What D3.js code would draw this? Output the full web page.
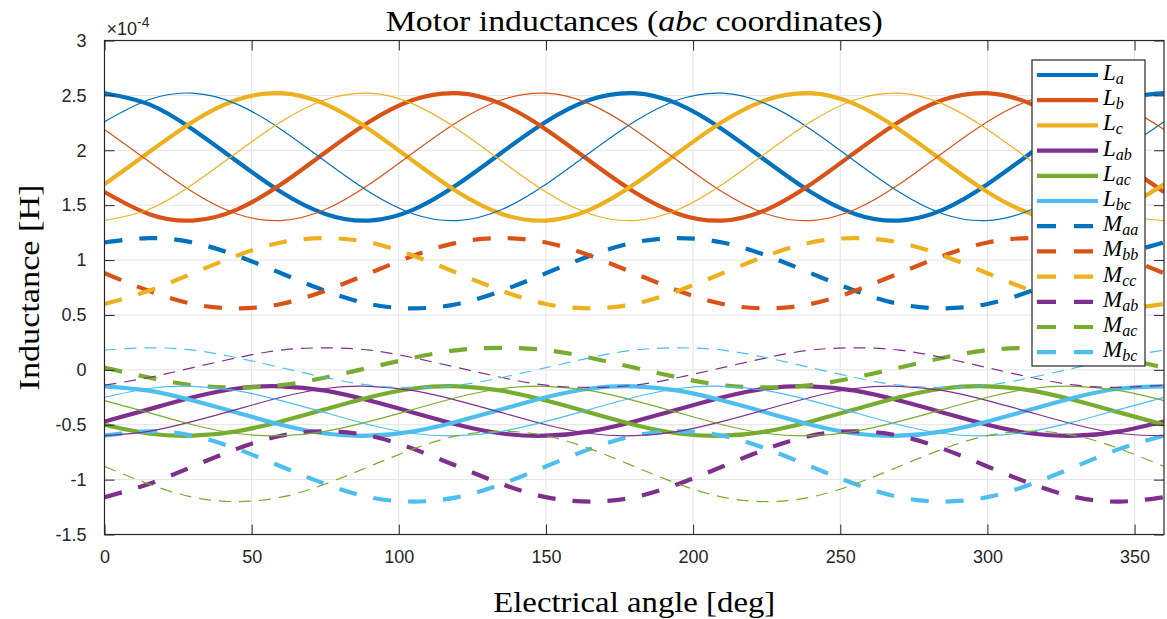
<!DOCTYPE html>
<html>
<head>
<meta charset="utf-8">
<script src="https://cdn.jsdelivr.net/npm/d3@7"></script>
<style>
  body { margin: 0; background: #fff; }
  svg { display: block; }
</style>
</head>
<body>
<svg id="chart"></svg>
<script>
var WIDTH = 1167;
var HEIGHT = 619;
var margin = { left: 104.5, top: 40.5, right: 3, bottom: 84.5 };

// electrical angle samples [deg]
var angle = [0, 15, 30, 45, 60, 75, 90, 105, 120, 135, 150, 165, 180,
             195, 210, 225, 240, 255, 270, 285, 300, 315, 330, 345, 360];

var xTicks = [0, 50, 100, 150, 200, 250, 300, 350];
var yTicks = [-1.5, -1, -0.5, 0, 0.5, 1, 1.5, 2, 2.5, 3];
var yTickLabels = ['-1.5', '-1', '-0.5', '0', '0.5', '1', '1.5', '2', '2.5', '3'];

// values in units of 1e-4 H
var La  = [2.52, 2.42, 2.19, 1.90, 1.62, 1.42, 1.36, 1.46, 1.69, 1.98, 2.26, 2.46, 2.52, 2.42, 2.19, 1.90, 1.62, 1.42, 1.36, 1.46, 1.69, 1.98, 2.26, 2.46, 2.52];
var Lb  = [1.62, 1.42, 1.36, 1.46, 1.69, 1.98, 2.26, 2.46, 2.52, 2.42, 2.19, 1.90, 1.62, 1.42, 1.36, 1.46, 1.69, 1.98, 2.26, 2.46, 2.52, 2.42, 2.19, 1.90, 1.62];
var Lc  = [1.69, 1.98, 2.26, 2.46, 2.52, 2.42, 2.19, 1.90, 1.62, 1.42, 1.36, 1.46, 1.69, 1.98, 2.26, 2.46, 2.52, 2.42, 2.19, 1.90, 1.62, 1.42, 1.36, 1.46, 1.69];
var Lab = [-0.47, -0.36, -0.25, -0.17, -0.15, -0.19, -0.28, -0.39, -0.50, -0.58, -0.60, -0.56, -0.47, -0.36, -0.25, -0.17, -0.15, -0.19, -0.28, -0.39, -0.50, -0.58, -0.60, -0.56, -0.47];
var Lac = [-0.50, -0.58, -0.60, -0.56, -0.47, -0.36, -0.25, -0.17, -0.15, -0.19, -0.28, -0.39, -0.50, -0.58, -0.60, -0.56, -0.47, -0.36, -0.25, -0.17, -0.15, -0.19, -0.28, -0.39, -0.50];
var Lbc = [-0.15, -0.19, -0.28, -0.39, -0.50, -0.58, -0.60, -0.56, -0.47, -0.36, -0.25, -0.17, -0.15, -0.19, -0.28, -0.39, -0.50, -0.58, -0.60, -0.56, -0.47, -0.36, -0.25, -0.17, -0.15];
var Maa = [1.16, 1.20, 1.16, 1.04, 0.88, 0.72, 0.60, 0.56, 0.60, 0.72, 0.88, 1.04, 1.16, 1.20, 1.16, 1.04, 0.88, 0.72, 0.60, 0.56, 0.60, 0.72, 0.88, 1.04, 1.16];
var Mbb = [0.88, 0.72, 0.60, 0.56, 0.60, 0.72, 0.88, 1.04, 1.16, 1.20, 1.16, 1.04, 0.88, 0.72, 0.60, 0.56, 0.60, 0.72, 0.88, 1.04, 1.16, 1.20, 1.16, 1.04, 0.88];
var Mcc = [0.60, 0.72, 0.88, 1.04, 1.16, 1.20, 1.16, 1.04, 0.88, 0.72, 0.60, 0.56, 0.60, 0.72, 0.88, 1.04, 1.16, 1.20, 1.16, 1.04, 0.88, 0.72, 0.60, 0.56, 0.60];
var Mab = [-1.16, -1.04, -0.88, -0.72, -0.60, -0.56, -0.60, -0.72, -0.88, -1.04, -1.16, -1.20, -1.16, -1.04, -0.88, -0.72, -0.60, -0.56, -0.60, -0.72, -0.88, -1.04, -1.16, -1.20, -1.16];
var Mac = [0.02, -0.07, -0.14, -0.16, -0.14, -0.07, 0.02, 0.11, 0.18, 0.20, 0.18, 0.11, 0.02, -0.07, -0.14, -0.16, -0.14, -0.07, 0.02, 0.11, 0.18, 0.20, 0.18, 0.11, 0.02];
var Mbc = [-0.60, -0.56, -0.60, -0.72, -0.88, -1.04, -1.16, -1.20, -1.16, -1.04, -0.88, -0.72, -0.60, -0.56, -0.60, -0.72, -0.88, -1.04, -1.16, -1.20, -1.16, -1.04, -0.88, -0.72, -0.60];

// thin curves (second set, not in the legend)
var La2  = [2.26, 2.46, 2.52, 2.42, 2.19, 1.90, 1.62, 1.42, 1.36, 1.46, 1.69, 1.98, 2.26, 2.46, 2.52, 2.42, 2.19, 1.90, 1.62, 1.42, 1.36, 1.46, 1.69, 1.98, 2.26];
var Lb2  = [2.19, 1.90, 1.62, 1.42, 1.36, 1.46, 1.69, 1.98, 2.26, 2.46, 2.52, 2.42, 2.19, 1.90, 1.62, 1.42, 1.36, 1.46, 1.69, 1.98, 2.26, 2.46, 2.52, 2.42, 2.19];
var Lc2  = [1.36, 1.46, 1.69, 1.98, 2.26, 2.46, 2.52, 2.42, 2.19, 1.90, 1.62, 1.42, 1.36, 1.46, 1.69, 1.98, 2.26, 2.46, 2.52, 2.42, 2.19, 1.90, 1.62, 1.42, 1.36];
var Lab2 = [-0.60, -0.56, -0.47, -0.36, -0.25, -0.17, -0.15, -0.19, -0.28, -0.39, -0.50, -0.58, -0.60, -0.56, -0.47, -0.36, -0.25, -0.17, -0.15, -0.19, -0.28, -0.39, -0.50, -0.58, -0.60];
var Lac2 = [-0.28, -0.39, -0.50, -0.58, -0.60, -0.56, -0.47, -0.36, -0.25, -0.17, -0.15, -0.19, -0.28, -0.39, -0.50, -0.58, -0.60, -0.56, -0.47, -0.36, -0.25, -0.17, -0.15, -0.19, -0.28];
var Lbc2 = [-0.25, -0.17, -0.15, -0.19, -0.28, -0.39, -0.50, -0.58, -0.60, -0.56, -0.47, -0.36, -0.25, -0.17, -0.15, -0.19, -0.28, -0.39, -0.50, -0.58, -0.60, -0.56, -0.47, -0.36, -0.25];
var Mab2 = [-0.14, -0.07, 0.02, 0.11, 0.18, 0.20, 0.18, 0.11, 0.02, -0.07, -0.14, -0.16, -0.14, -0.07, 0.02, 0.11, 0.18, 0.20, 0.18, 0.11, 0.02, -0.07, -0.14, -0.16, -0.14];
var Mac2 = [-0.88, -1.04, -1.16, -1.20, -1.16, -1.04, -0.88, -0.72, -0.60, -0.56, -0.60, -0.72, -0.88, -1.04, -1.16, -1.20, -1.16, -1.04, -0.88, -0.72, -0.60, -0.56, -0.60, -0.72, -0.88];
var Mbc2 = [0.18, 0.20, 0.18, 0.11, 0.02, -0.07, -0.14, -0.16, -0.14, -0.07, 0.02, 0.11, 0.18, 0.20, 0.18, 0.11, 0.02, -0.07, -0.14, -0.16, -0.14, -0.07, 0.02, 0.11, 0.18];

var legendNames = [['L', 'a'], ['L', 'b'], ['L', 'c'], ['L', 'ab'], ['L', 'ac'], ['L', 'bc'],
                   ['M', 'aa'], ['M', 'bb'], ['M', 'cc'], ['M', 'ab'], ['M', 'ac'], ['M', 'bc']];

var colors = ['#0072BD', '#D95319', '#EDB120', '#7E2F8E', '#77AC30', '#4DBEEE'];

var THICK = 4.2;
var THIN = 1.2;
var DASH_THICK = '18,17';
var DASH_THIN = '12,8';

var mainSeries = [
    { values: La,  color: colors[0], dash: null },
    { values: Lb,  color: colors[1], dash: null },
    { values: Lc,  color: colors[2], dash: null },
    { values: Lab, color: colors[3], dash: null },
    { values: Lac, color: colors[4], dash: null },
    { values: Lbc, color: colors[5], dash: null },
    { values: Maa, color: colors[0], dash: DASH_THICK },
    { values: Mbb, color: colors[1], dash: DASH_THICK },
    { values: Mcc, color: colors[2], dash: DASH_THICK },
    { values: Mab, color: colors[3], dash: DASH_THICK },
    { values: Mac, color: colors[4], dash: DASH_THICK },
    { values: Mbc, color: colors[5], dash: DASH_THICK }
];
var thinSeries = [
    { values: La2,  color: colors[0], dash: null },
    { values: Lb2,  color: colors[1], dash: null },
    { values: Lc2,  color: colors[2], dash: null },
    { values: Lab2, color: colors[3], dash: null },
    { values: Lac2, color: colors[4], dash: null },
    { values: Lbc2, color: colors[5], dash: null },
    { values: Mab2, color: colors[3], dash: DASH_THIN },
    { values: Mac2, color: colors[4], dash: DASH_THIN },
    { values: Mbc2, color: colors[5], dash: DASH_THIN }
];

var svg = d3.select('#chart')
    .attr('width', WIDTH)
    .attr('height', HEIGHT)
    .style('font-family', '"Liberation Sans", Arial, sans-serif');

var plotW = WIDTH - margin.left - margin.right;
var plotH = HEIGHT - margin.top - margin.bottom;

var xScale = d3.scaleLinear().domain([0, 360]).range([margin.left, margin.left + plotW]);
var yScale = d3.scaleLinear().domain([-1.5, 3]).range([margin.top + plotH, margin.top]);

var axisColor = '#262626';

// grid
var grid = svg.append('g');
grid.selectAll('line.gx')
    .data(xTicks.slice(1))
    .enter().append('line')
    .attr('x1', function(d){ return xScale(d); })
    .attr('x2', function(d){ return xScale(d); })
    .attr('y1', margin.top).attr('y2', margin.top + plotH)
    .attr('stroke', '#e3e3e3').attr('stroke-width', 1);
grid.selectAll('line.gy')
    .data(yTicks.slice(1, -1))
    .enter().append('line')
    .attr('y1', function(d){ return yScale(d); })
    .attr('y2', function(d){ return yScale(d); })
    .attr('x1', margin.left).attr('x2', margin.left + plotW)
    .attr('stroke', '#e3e3e3').attr('stroke-width', 1);

svg.append('clipPath').attr('id', 'plotClip')
    .append('rect')
    .attr('x', margin.left).attr('y', margin.top)
    .attr('width', plotW).attr('height', plotH);

var line = d3.line()
    .x(function(d, i){ return xScale(angle[i]); })
    .y(function(d){ return yScale(d); })
    .curve(d3.curveNatural);

var lines = svg.append('g').attr('clip-path', 'url(#plotClip)');

function drawSeries(list, width){
    list.forEach(function(s){
        lines.append('path')
            .datum(s.values)
            .attr('d', line)
            .attr('fill', 'none')
            .attr('stroke', s.color)
            .attr('stroke-width', width)
            .attr('stroke-dasharray', s.dash)
            .attr('stroke-linejoin', 'round');
    });
}
drawSeries(mainSeries, THICK);
drawSeries(thinSeries, THIN);

// axes (box with inward ticks on all sides)
var tickLen = 10;
var bottomAxis = d3.axisBottom(xScale).tickValues(xTicks).tickSize(-tickLen).tickPadding(16);
var topAxis = d3.axisTop(xScale).tickValues(xTicks).tickSize(-tickLen).tickFormat('');
var leftAxis = d3.axisLeft(yScale).tickValues(yTicks).tickSize(-tickLen).tickPadding(18)
    .tickFormat(function(d, i){ return yTickLabels[i]; });
var rightAxis = d3.axisRight(yScale).tickValues(yTicks).tickSize(-tickLen).tickFormat('');

function styleAxis(g){
    g.select('.domain').attr('stroke', axisColor).attr('stroke-width', 1.2);
    g.selectAll('.tick line').attr('stroke', axisColor).attr('stroke-width', 1);
    g.selectAll('.tick text').attr('fill', axisColor)
        .style('font-size', '18px')
        .style('font-family', '"Liberation Sans", Arial, sans-serif');
}

svg.append('g').attr('transform', 'translate(0,' + (margin.top + plotH) + ')').call(bottomAxis).call(styleAxis);
svg.append('g').attr('transform', 'translate(0,' + margin.top + ')').call(topAxis).call(styleAxis);
svg.append('g').attr('transform', 'translate(' + margin.left + ',0)').call(leftAxis).call(styleAxis);
svg.append('g').attr('transform', 'translate(' + (margin.left + plotW) + ',0)').call(rightAxis).call(styleAxis);
svg.selectAll('.domain').attr('d', null);
svg.append('rect')
    .attr('x', margin.left).attr('y', margin.top)
    .attr('width', plotW).attr('height', plotH)
    .attr('fill', 'none').attr('stroke', axisColor).attr('stroke-width', 1.2);

// exponent label
var expo = svg.append('text')
    .attr('x', margin.left + 2).attr('y', margin.top - 6)
    .attr('fill', axisColor)
    .style('font-size', '18px');
expo.append('tspan').text('\u00d710');
expo.append('tspan').attr('dy', -8).style('font-size', '14px').text('-4');

// title and axis labels
var serif = '"Liberation Serif", "Times New Roman", serif';
var title = svg.append('text')
    .attr('x', margin.left + plotW / 2).attr('y', 31)
    .attr('text-anchor', 'middle')
    .attr('textLength', 497).attr('lengthAdjust', 'spacingAndGlyphs')
    .attr('fill', '#000')
    .style('font-family', serif).style('font-size', '29px');
title.append('tspan').text('Motor inductances (');
title.append('tspan').style('font-style', 'italic').text('abc');
title.append('tspan').text(' coordinates)');

svg.append('text')
    .attr('x', margin.left + plotW / 2).attr('y', 612)
    .attr('text-anchor', 'middle')
    .attr('textLength', 282).attr('lengthAdjust', 'spacingAndGlyphs')
    .style('font-family', serif).style('font-size', '30px')
    .text('Electrical angle [deg]');

svg.append('text')
    .attr('transform', 'translate(39,' + (margin.top + plotH / 2) + ') rotate(-90)')
    .attr('text-anchor', 'middle')
    .attr('textLength', 206).attr('lengthAdjust', 'spacingAndGlyphs')
    .style('font-family', serif).style('font-size', '30px')
    .text('Inductance [H]');

// legend
var legX = 1032, legY = 60, legW = 113, legH = 306;
var legend = svg.append('g');
legend.append('rect')
    .attr('x', legX).attr('y', legY).attr('width', legW).attr('height', legH)
    .attr('fill', '#fff').attr('stroke', axisColor).attr('stroke-width', 1.2);

var rowH = 25.2;
legendNames.forEach(function(name, i){
    var s = mainSeries[i];
    var cy = legY + 15 + i * rowH;
    legend.append('line')
        .attr('x1', legX + 5).attr('x2', legX + 66)
        .attr('y1', cy).attr('y2', cy)
        .attr('stroke', s.color).attr('stroke-width', THICK)
        .attr('stroke-dasharray', s.dash ? '19,18' : null);
    var t = legend.append('text')
        .attr('x', legX + 71).attr('y', cy + 5)
        .style('font-family', serif).style('font-style', 'italic')
        .style('font-size', '23px').attr('fill', '#000');
    t.append('tspan').text(name[0]);
    t.append('tspan').attr('dy', 4).style('font-size', '16px').text(name[1]);
});
</script>
</body>
</html>
